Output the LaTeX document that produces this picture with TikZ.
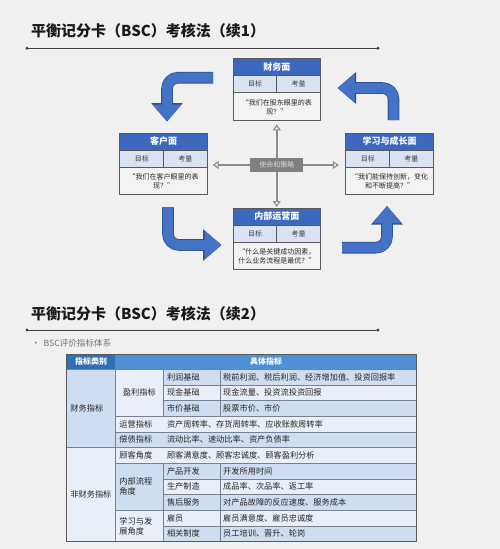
\documentclass[tikz,border=0pt]{standalone}
\usepackage{fontspec}
\setmainfont{Noto Sans CJK SC}
\usetikzlibrary{arrows.meta}
\definecolor{bgcol}{RGB}{240,240,241}
\definecolor{titlecol}{RGB}{26,26,26}
\definecolor{hdblue}{RGB}{60,105,190}
\definecolor{rowblue}{RGB}{218,227,243}
\definecolor{qtgray}{RGB}{243,243,243}
\definecolor{cardline}{RGB}{89,89,89}
\definecolor{arrblue}{RGB}{68,114,196}
\definecolor{arrdark}{RGB}{47,82,143}
\definecolor{linkgray}{RGB}{140,140,140}
\definecolor{missgray}{RGB}{128,128,128}
\definecolor{tabhdA}{RGB}{47,111,183}
\definecolor{tabhdB}{RGB}{79,143,214}
\definecolor{tblA}{RGB}{207,221,240}
\definecolor{tblB}{RGB}{233,239,248}
\definecolor{tabgrid}{RGB}{120,130,145}
\tikzset{
  title/.style={anchor=west, inner sep=0, text=titlecol, font=\fontsize{15}{18}\selectfont\bfseries},
  ruleline/.style={draw=black!75, line width=0.9pt},
  card/.style={rectangle, fill=qtgray, minimum width=87pt, minimum height=61.5pt, inner sep=0},
  cardhead/.style={inner sep=0, text=white, font=\fontsize{9}{10}\selectfont\bfseries},
  cardsmall/.style={inner sep=0, text=black!75, font=\fontsize{7}{8}\selectfont},
  cardquote/.style={inner sep=0, align=center, text=black!85, font=\fontsize{7}{9}\selectfont},
  mission/.style={fill=missgray, minimum width=53pt, minimum height=14pt, inner sep=0,
    text=black!15, font=\fontsize{7}{8}\selectfont},
  link/.style={draw=linkgray, line width=1.8pt, shorten >=4pt,
    -{Triangle[open, length=6pt, width=8pt, line width=1.1pt]}},
  bigarrow/.style={draw=arrblue, line width=10pt, rounded corners=11pt,
    -{Triangle[length=17pt, width=28pt]},
    preaction={draw=arrdark, line width=11.6pt, -{Triangle[length=18.5pt, width=30.5pt]}}},
  tabtext/.style={anchor=west, inner sep=0, align=left, text=black!85, font=\fontsize{8.2}{10}\selectfont},
  tabhead/.style={inner sep=0, text=white, font=\fontsize{8}{9}\selectfont\bfseries},
  tabline/.style={draw=tabgrid, line width=0.7pt}
}
\begin{document}
\begin{tikzpicture}[x=1pt, y=-1pt, line join=round]
  \fill[bgcol] (0,0) rectangle (500,549);
  \useasboundingbox (0,0) rectangle (500,549);
  % part 1
  \node[title] (t1) at (31,31) {平衡记分卡（BSC）考核法（续1）};
  \path (27,48.3) coordinate (r1a) (378,48.3) coordinate (r1b);
  \draw[ruleline] (r1a) -- (r1b);
  \fill[black!75] (r1a) circle (1.6) (r1b) circle (1.6);
  \foreach \n/\cx/\cy/\ttl/\qt in {
      fin/276.75/58.5/财务面/{“我们在股东眼里的表\\现？”},
      cust/163.5/133/客户面/{“我们在客户眼里的表\\现？”},
      learn/389.5/133/学习与成长面/{“我们能保持创新，变化\\和不断提高？”},
      int/276.75/208/内部运营面/{“什么是关键成功因素，\\什么业务流程是最优？”}}{
    \node[card, anchor=north] (\n) at (\cx,\cy) {};
    \fill[hdblue] (\n.north west) rectangle ++(87,17);
    \fill[rowblue] (\n.north west) ++(0,17) rectangle ++(87,17);
    \draw[cardline, line width=0.6pt] (\n.north west) ++(0,17) -- ++(87,0) ++(0,17) -- ++(-87,0);
    \draw[cardline, line width=0.6pt] (\n.north) ++(0,17) -- ++(0,17);
    \draw[cardline, line width=0.9pt] (\n.north west) rectangle (\n.south east);
    \node[cardhead] (\n-h) at ([yshift=-8.5pt]\n.north) {\ttl};
    \node[cardsmall] (\n-g) at ([xshift=-21.75pt, yshift=-25.5pt]\n.north) {目标};
    \node[cardsmall] (\n-k) at ([xshift=21.75pt, yshift=-25.5pt]\n.north) {考量};
    \node[cardquote] (\n-q) at ([yshift=-48.5pt]\n.north) {\qt};
  }
  \node[mission] (miss) at (276.75,165) {使命和策略};
  \draw[link] (miss.north) -- (fin.south);
  \draw[link, shorten >=1pt] (miss.south) -- (int.north);
  \draw[link, shorten >=5.5pt] (miss.west) -- (miss.west -| cust.east);
  \draw[link, shorten >=7pt] (miss.east) -- (miss.east -| learn.west);
  % turning arrows
  \draw[bigarrow] (213,77.7) -| (167,121.5);
  \draw[bigarrow] (168,207) |- (221.5,245);
  \draw[bigarrow] (342,247.7) -| (387,206);
  \draw[bigarrow] (393.5,120) |- (337.5,88);
  % part 2
  \node[title] (t2) at (31,314) {平衡记分卡（BSC）考核法（续2）};
  \path (27,330) coordinate (r2a) (378,330) coordinate (r2b);
  \draw[ruleline] (r2a) -- (r2b);
  \fill[black!75] (r2a) circle (1.6) (r2b) circle (1.6);
  \node[anchor=west, inner sep=0, text=black!55, font=\fontsize{8.6}{10}\selectfont] (bul) at (31.5,343) {•\, BSC评价指标体系};
  \def\xa{66.7} \def\xb{115.7} \def\xc{163.3} \def\xd{220} \def\xe{416.7}
  \def\ty{369.3} \def\rh{15.67}
  \fill[tabhdA] (\xa,354) rectangle (\xb,\ty);
  \fill[tabhdB] (\xb,354) rectangle (\xe,\ty);
  \foreach \i in {1,3,...,11}
    \fill[tblA] (\xb,{\ty+(\i-1)*\rh}) rectangle (\xe,{\ty+\i*\rh});
  \foreach \i in {2,4,...,10}
    \fill[tblB] (\xb,{\ty+(\i-1)*\rh}) rectangle (\xe,{\ty+\i*\rh});
  \fill[tblA] (\xa,\ty) rectangle (\xb,{\ty+5*\rh});
  \fill[tblB] (\xa,{\ty+5*\rh}) rectangle (\xb,{\ty+11*\rh});
  \fill[tblB] (\xb,\ty) rectangle (\xc,{\ty+3*\rh});
  \fill[tblA] (\xb,{\ty+6*\rh}) rectangle (\xc,{\ty+9*\rh});
  \fill[tblB] (\xb,{\ty+9*\rh}) rectangle (\xc,{\ty+11*\rh});
  \foreach \k in {1,2,7,8,10}
    \draw[tabline] (\xc,{\ty+\k*\rh}) -- (\xe,{\ty+\k*\rh});
  \foreach \k in {3,4,6,9}
    \draw[tabline] (\xb,{\ty+\k*\rh}) -- (\xe,{\ty+\k*\rh});
  \draw[tabline] (\xa,{\ty+5*\rh}) -- (\xe,{\ty+5*\rh});
  \foreach \x in {\xc,\xd}{
    \draw[tabline] (\x,\ty) -- (\x,{\ty+3*\rh});
    \draw[tabline] (\x,{\ty+6*\rh}) -- (\x,{\ty+11*\rh});
  }
  \draw[tabline] (\xb,354) -- (\xb,{\ty+11*\rh});
  \draw[tabline] (\xa,\ty) -- (\xe,\ty);
  \draw[draw=black!65, line width=0.9pt] (\xa,354) rectangle (\xe,{\ty+11*\rh});
  \node[tabhead] (hd1) at ({(\xa+\xb)/2},361.6) {指标类别};
  \node[tabhead] (hd2) at ({(\xb+\xe)/2},361.6) {具体指标};
  \node[tabtext] (cat1) at ({\xa+3.5},{\ty+2.5*\rh}) {财务指标};
  \node[tabtext] (cat2) at ({\xa+3.5},{\ty+8*\rh}) {非财务指标};
  \node[tabtext] (sub1) at ({\xb+7},{\ty+1.5*\rh}) {盈利指标};
  \node[tabtext] (sub2) at ({\xb+3.5},{\ty+7.5*\rh}) {内部流程\\角度};
  \node[tabtext] (sub3) at ({\xb+3.5},{\ty+10*\rh}) {学习与发\\展角度};
  \foreach \i/\p/\q in {1/利润基础/税前利润、税后利润、经济增加值、投资回报率,
      2/现金基础/现金流量、投资流投资回报, 3/市价基础/股票市价、市价,
      7/产品开发/开发所用时间, 8/生产制造/成品率、次品率、返工率,
      9/售后服务/对产品故障的反应速度、服务成本, 10/雇员/雇员满意度、雇员忠诚度,
      11/相关制度/员工培训、晋升、轮岗}{
    \node[tabtext] (a\i) at ({\xc+3.5},{\ty+(\i-0.5)*\rh}) {\p};
    \node[tabtext] (b\i) at ({\xd+3},{\ty+(\i-0.5)*\rh}) {\q};
  }
  \foreach \i/\p/\q in {4/运营指标/资产周转率、存货周转率、应收账款周转率,
      5/偿债指标/流动比率、速动比率、资产负债率,
      6/顾客角度/顾客满意度、顾客忠诚度、顾客盈利分析}{
    \node[tabtext] (a\i) at ({\xb+3.5},{\ty+(\i-0.5)*\rh}) {\p};
    \node[tabtext] (b\i) at ({\xc+3.5},{\ty+(\i-0.5)*\rh}) {\q};
  }
\end{tikzpicture}
\end{document}
